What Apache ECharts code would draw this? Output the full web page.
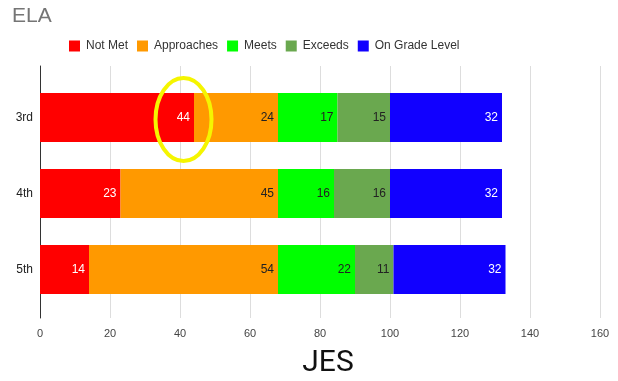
<!DOCTYPE html>
<html>
<head>
<meta charset="utf-8">
<script src="https://cdn.jsdelivr.net/npm/echarts@6/dist/echarts.min.js"></script>
<style>
  html, body { margin: 0; padding: 0; background: #fff; }
  #chart { width: 618px; height: 381px; }
</style>
</head>
<body>
<div id="chart"></div>
<script>
// Grades shown as rows, top to bottom
const grades = ['3rd', '4th', '5th'];

// Stacked performance bands per grade
const notMet      = [44, 23, 14];
const approaches  = [24, 45, 54];
const meets       = [17, 16, 22];
const exceeds     = [15, 16, 11];
const onGrade     = [32, 32, 32];

const seriesNames  = ['Not Met', 'Approaches', 'Meets', 'Exceeds', 'On Grade Level'];
const seriesValues = [notMet, approaches, meets, exceeds, onGrade];
const seriesColors = ['#ff0000', '#ff9900', '#00ff00', '#6aa84f', '#1100ff'];
const labelColors  = ['#ffffff', '#222222', '#222222', '#222222', '#ffffff'];

// Value axis
const xMin = 0, xMax = 160, xStep = 20;

const SANS = '"Liberation Sans", Arial, sans-serif';
const ROBOTO = 'Roboto, "Liberation Sans", Arial, sans-serif';

const chart = echarts.init(document.getElementById('chart'), null, { renderer: 'canvas' });

const option = {
  animation: false,
  backgroundColor: '#ffffff',
  title: {
    text: 'ELA',
    left: 7, top: 1,
    textStyle: { fontFamily: SANS, fontSize: 21, fontWeight: 'normal', color: '#757575' }
  },
  legend: {
    left: 64, top: 35,
    icon: 'rect',
    itemWidth: 11, itemHeight: 11, itemGap: 9,
    textStyle: { fontFamily: SANS, fontSize: 12, color: '#333', padding: [0, 0, 0, 1] },
    data: seriesNames
  },
  grid: [
    // frame grid: gridlines and tick labels
    { left: 40, right: 18, top: 66, height: 252, containLabel: false, outerBoundsMode: 'none' },
    // bar grid
    { left: 40, right: 18, top: 79.5, height: 228, containLabel: false, outerBoundsMode: 'none' }
  ],
  xAxis: [
    {
      gridIndex: 0, type: 'value', min: xMin, max: xMax, interval: xStep,
      axisLine: { show: false }, axisTick: { show: false },
      splitLine: { show: true, lineStyle: { color: '#dddddd', width: 1 } },
      axisLabel: { fontFamily: SANS, fontSize: 11, color: '#444', margin: 10 },
      name: 'JES', nameLocation: 'middle', nameGap: 30,
      nameTextStyle: { fontFamily: ROBOTO, fontSize: 30, color: '#111', padding: [0, 0, 0, 16] }
    },
    {
      gridIndex: 1, type: 'value', min: xMin, max: xMax, interval: xStep,
      show: false
    }
  ],
  yAxis: [
    {
      gridIndex: 0, type: 'category', data: grades, inverse: true,
      axisLine: { show: true, lineStyle: { color: '#333', width: 1 } },
      axisTick: { show: false }, axisLabel: { show: false }, splitLine: { show: false }
    },
    {
      gridIndex: 1, type: 'category', data: grades, inverse: true,
      axisLine: { show: false }, axisTick: { show: false },
      axisLabel: { fontFamily: SANS, fontSize: 12, color: '#222', margin: 7 }
    }
  ],
  series: seriesNames.map((name, i) => ({
    name,
    type: 'bar',
    stack: 'total',
    xAxisIndex: 1, yAxisIndex: 1,
    barWidth: 49,
    itemStyle: { color: seriesColors[i] },
    label: {
      show: true,
      position: 'insideRight',
      distance: 4,
      fontFamily: SANS, fontSize: 12,
      color: labelColors[i]
    },
    data: seriesValues[i]
  }))
};

chart.setOption(option);

// Highlight ring around the 3rd-grade "Not Met" label
function drawRing() {
  const c = chart.convertToPixel({ xAxisIndex: 1, yAxisIndex: 1 }, [41, grades[0]]);
  chart.setOption({
    graphic: [{
      type: 'ellipse',
      shape: { cx: c[0], cy: c[1] + 2, rx: 28, ry: 41.5 },
      style: { fill: 'none', stroke: '#f5f500', lineWidth: 4 },
      z: 100
    }]
  });
}
drawRing();
</script>
</body>
</html>
